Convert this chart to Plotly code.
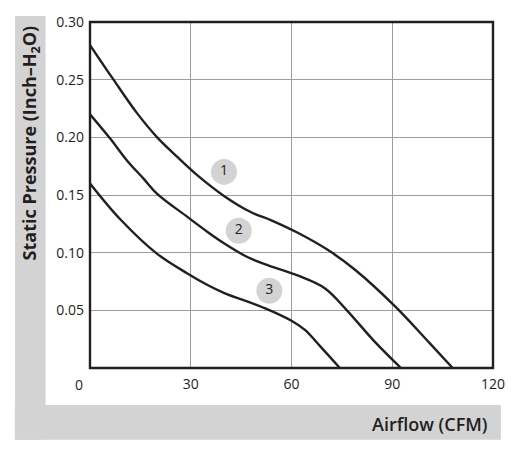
import plotly.graph_objects as go

# Data
c1_x = [0, 7, 14, 20, 26, 32, 40, 48, 54, 62, 71, 79, 91, 101, 108]
c1_y = [0.28, 0.250, 0.221, 0.200, 0.183, 0.167, 0.149, 0.135, 0.128, 0.117, 0.102, 0.085, 0.053, 0.022, 0.0]
c2_x = [0, 6, 11, 16, 20, 29, 35, 40, 47, 52, 62, 70, 76.5, 84.4, 92.6]
c2_y = [0.22, 0.199, 0.180, 0.164, 0.151, 0.131, 0.118, 0.108, 0.096, 0.090, 0.080, 0.069, 0.050, 0.024, 0.0]
c3_x = [0, 9, 20, 29, 35, 40, 52, 60, 64, 68.5, 74.4]
c3_y = [0.16, 0.129, 0.099, 0.082, 0.072, 0.065, 0.052, 0.041, 0.033, 0.019, 0.0]

label_names = ["1", "2", "3"]
label_x = [39.9, 44.3, 53.4]
label_y = [0.170, 0.119, 0.067]

x_ticks = [30, 60, 90, 120]
y_ticks = [0.05, 0.10, 0.15, 0.20, 0.25, 0.30]

W, H = 517, 449
L, R, T, B = 90, 19, 21, 81
pw, ph = W - L - R, H - T - B

def px(x):
    return (x - L) / pw

def py(y):
    return (H - B - y) / ph

ink = "#231f20"
font_fam = "Open Sans, Noto Sans, sans-serif"

fig = go.Figure()
for xs, ys in [(c1_x, c1_y), (c2_x, c2_y), (c3_x, c3_y)]:
    fig.add_trace(go.Scatter(x=xs, y=ys, mode="lines", line=dict(color=ink, width=2.4, shape="spline", smoothing=1.0),
                             hoverinfo="skip", showlegend=False))

fig.add_trace(go.Scatter(x=label_x, y=label_y, mode="markers+text", text=label_names,
                         marker=dict(size=26, color="#d3d3d4", line=dict(width=0)),
                         textfont=dict(size=14, color=ink, family=font_fam), textposition="middle center",
                         hoverinfo="skip", showlegend=False))

shapes = [
    dict(type="rect", xref="paper", yref="paper", x0=px(14), x1=px(45), y0=py(440), y1=py(15),
         fillcolor="#d3d3d4", line=dict(width=0), layer="below"),
    dict(type="rect", xref="paper", yref="paper", x0=px(14), x1=px(506), y0=py(440), y1=py(405),
         fillcolor="#d3d3d4", line=dict(width=0), layer="below"),
    dict(type="rect", xref="paper", yref="paper", x0=0, x1=1, y0=0, y1=1,
         line=dict(color=ink, width=2.4), layer="above"),
]

annotations = [
    dict(text="Static Pressure (Inch–H<sub>2</sub>O)", textangle=-90, xref="paper", yref="paper",
         x=px(30), y=py(142), xanchor="center", yanchor="middle", showarrow=False,
         font=dict(size=18, color=ink, family=font_fam, weight="bold")),
    dict(text="Airflow (CFM)", xref="paper", yref="paper", x=px(495), y=py(424),
         xanchor="right", yanchor="middle", showarrow=False,
         font=dict(size=18, color=ink, family=font_fam, weight=600)),
    dict(text="0", xref="paper", yref="paper", x=px(79), y=py(385),
         xanchor="center", yanchor="middle", showarrow=False,
         font=dict(size=14, color=ink, family=font_fam)),
]

fig.update_layout(
    width=W, height=H, margin=dict(l=L, r=R, t=T, b=B),
    paper_bgcolor="white", plot_bgcolor="white",
    shapes=shapes, annotations=annotations,
    xaxis=dict(range=[0, 120], tickvals=x_ticks, ticktext=[str(v) for v in x_ticks],
               showgrid=True, gridcolor="#9d9d9d", gridwidth=1, zeroline=False, showline=False,
               ticks="", ticklabelstandoff=6,
               tickfont=dict(size=14, color=ink, family=font_fam), fixedrange=True),
    yaxis=dict(range=[0, 0.30], tickvals=y_ticks, ticktext=["%.2f" % v for v in y_ticks],
               showgrid=True, gridcolor="#9d9d9d", gridwidth=1, zeroline=False, showline=False,
               ticks="", ticklabelstandoff=5,
               tickfont=dict(size=14, color=ink, family=font_fam), fixedrange=True),
)

fig.write_html("out.html")
